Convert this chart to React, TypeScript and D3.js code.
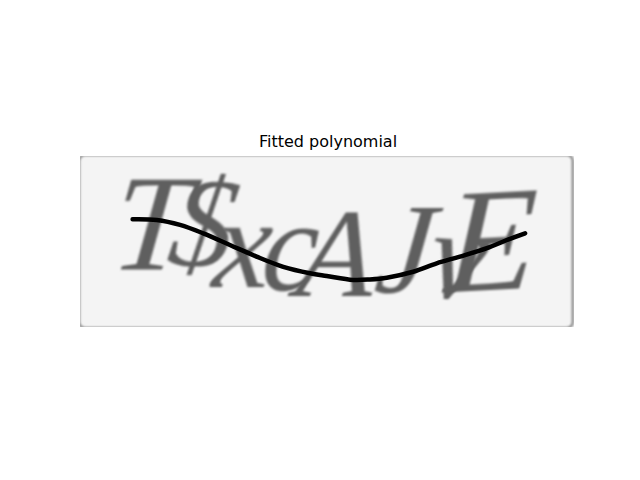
import { useEffect, useRef } from 'react'
import * as d3 from 'd3'

// Captcha image (200 x 69 px) shown with imshow, axes hidden, and the
// polynomial fitted through the strike-through line drawn on top.
const imgW = 200
const imgH = 69

// captcha glyphs, positions in image pixels (centre x, baseline y), tilt in degrees
const glyphs = ['T', '$', 'x', 'c', 'A', 'J', 'v', 'E']
const glyphX = [27.1, 47.4, 64.5, 84.5, 102.4, 130.0, 150.5, 165.5]
const glyphY = [46.0, 44.4, 52.9, 54.1, 56.5, 55.1, 57.5, 54.1]
const glyphTilt = [0, 3, 0, -3, 0, 0, 4, -3]
const glyphSize = [55, 52, 52, 52, 51, 52, 52, 60]

// fitted polynomial, sampled from the figure (image pixels)
const fitX = [21.3, 31.1, 40.5, 49.9, 60.7, 71.5, 82.3, 93.1, 99.9, 110.6, 117.4, 124.2, 134.9, 144.4, 153.8, 164.7, 172.8, 180.2]
const fitY = [25.5, 25.8, 27.8, 31.2, 35.9, 40.6, 44.7, 47.3, 48.4, 50.0, 49.8, 49.1, 46.7, 43.3, 40.6, 37.2, 33.9, 31.2]

const App = () => {
  const ref = useRef<SVGSVGElement>(null)

  useEffect(() => {
    if (!ref.current) return
    const svg = d3.select(ref.current)
    svg.selectAll('*').remove()

    const x = d3.scaleLinear().domain([0, imgW]).range([80, 574])
    const y = d3.scaleLinear().domain([0, imgH]).range([156, 327])
    const k = x(1) - x(0)

    const defs = svg.append('defs')
    defs.append('clipPath').attr('id', 'img-clip')
      .append('rect')
      .attr('x', x(0)).attr('y', y(0))
      .attr('width', x(imgW) - x(0)).attr('height', y(imgH) - y(0))
    defs.append('filter').attr('id', 'soft')
      .append('feGaussianBlur').attr('stdDeviation', 0.9)

    const img = svg.append('g').attr('clip-path', 'url(#img-clip)')

    img.append('rect')
      .attr('x', x(0)).attr('y', y(0))
      .attr('width', x(imgW) - x(0)).attr('height', y(imgH) - y(0))
      .attr('fill', '#f4f4f4')

    // frame of the captcha, cropped on the left
    img.append('rect')
      .attr('x', x(-0.4)).attr('y', y(-0.4))
      .attr('width', x(imgW - 0.5) - x(-0.4)).attr('height', y(imgH + 0.4) - y(-0.4))
      .attr('rx', 6)
      .attr('fill', 'none')
      .attr('stroke', '#808080')
      .attr('stroke-width', 2.2)
      .attr('filter', 'url(#soft)')

    img.selectAll('text.glyph')
      .data(glyphs)
      .enter()
      .append('text')
      .attr('class', 'glyph')
      .attr('transform', (_, i) => `translate(${x(glyphX[i])},${y(glyphY[i])}) rotate(${glyphTilt[i]}) skewX(-6)`)
      .attr('text-anchor', 'middle')
      .attr('font-family', 'Liberation Serif')
      .attr('font-style', 'italic')
      .attr('font-size', (_, i) => glyphSize[i] * k)
      .attr('fill', '#5e5e5e')
      .attr('filter', 'url(#soft)')
      .text((d) => d)

    const line = d3.line<number>()
      .x((_, i) => x(fitX[i]))
      .y((d) => y(d))
      .curve(d3.curveCatmullRom)

    img.append('path')
      .datum(fitY)
      .attr('d', line)
      .attr('fill', 'none')
      .attr('stroke', '#000')
      .attr('stroke-width', 4.5)
      .attr('stroke-linecap', 'round')

    svg.append('text')
      .attr('x', 328)
      .attr('y', 147)
      .attr('text-anchor', 'middle')
      .attr('font-family', 'DejaVu Sans')
      .attr('font-size', 16)
      .attr('fill', '#000')
      .text('Fitted polynomial')
  }, [])

  return (
    <svg
      ref={ref}
      width={640}
      height={480}
      style={{ position: 'absolute', left: 0, top: 0, background: '#fff' }}
    />
  )
}

export default App
